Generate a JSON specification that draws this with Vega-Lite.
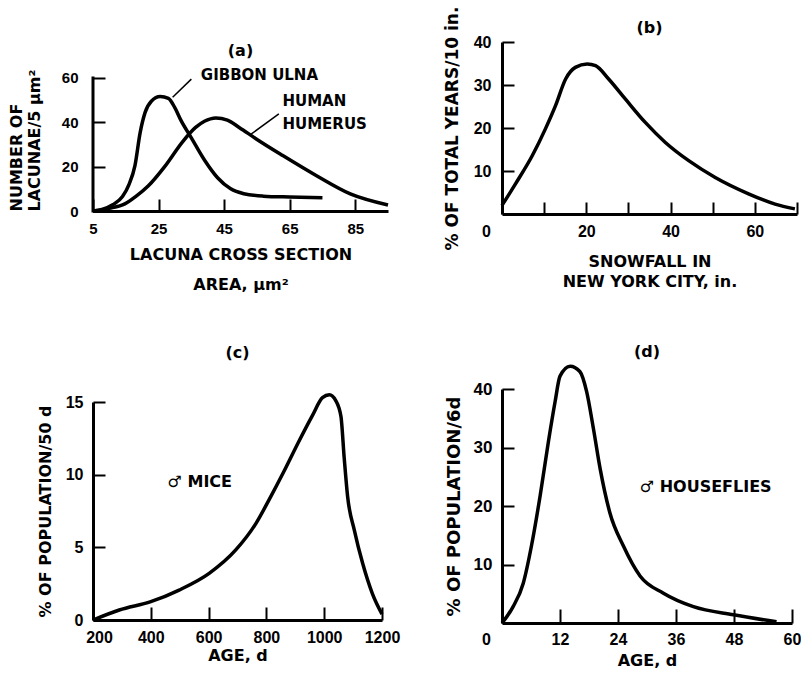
{
  "$schema": "https://vega.github.io/schema/vega-lite/v6.json",
  "background": "white",
  "padding": {"left": 8, "top": 6, "right": 0, "bottom": 0},
  "datasets": {
    "lacuna": [
      {"specimen": "Gibbon ulna", "area": 5, "count": 0},
      {"specimen": "Gibbon ulna", "area": 8, "count": 0.8},
      {"specimen": "Gibbon ulna", "area": 11, "count": 2.8},
      {"specimen": "Gibbon ulna", "area": 14, "count": 6.5},
      {"specimen": "Gibbon ulna", "area": 16, "count": 12},
      {"specimen": "Gibbon ulna", "area": 17.8, "count": 20.5},
      {"specimen": "Gibbon ulna", "area": 19.4, "count": 35.5},
      {"specimen": "Gibbon ulna", "area": 20.9, "count": 44.5},
      {"specimen": "Gibbon ulna", "area": 22.8, "count": 49.5},
      {"specimen": "Gibbon ulna", "area": 25.5, "count": 51.6},
      {"specimen": "Gibbon ulna", "area": 28, "count": 50.8},
      {"specimen": "Gibbon ulna", "area": 30, "count": 46.5},
      {"specimen": "Gibbon ulna", "area": 31.8, "count": 41},
      {"specimen": "Gibbon ulna", "area": 35, "count": 33},
      {"specimen": "Gibbon ulna", "area": 39, "count": 23},
      {"specimen": "Gibbon ulna", "area": 43, "count": 15},
      {"specimen": "Gibbon ulna", "area": 47, "count": 10},
      {"specimen": "Gibbon ulna", "area": 51, "count": 7.8},
      {"specimen": "Gibbon ulna", "area": 57, "count": 6.7},
      {"specimen": "Gibbon ulna", "area": 65, "count": 6.3},
      {"specimen": "Gibbon ulna", "area": 75, "count": 6.0},
      {"specimen": "Human humerus", "area": 5, "count": 0},
      {"specimen": "Human humerus", "area": 10, "count": 1.2},
      {"specimen": "Human humerus", "area": 14.7, "count": 3.2},
      {"specimen": "Human humerus", "area": 18, "count": 6.5},
      {"specimen": "Human humerus", "area": 21.9, "count": 11.4},
      {"specimen": "Human humerus", "area": 27.1, "count": 20.5},
      {"specimen": "Human humerus", "area": 32.2, "count": 31},
      {"specimen": "Human humerus", "area": 36.3, "count": 37.7},
      {"specimen": "Human humerus", "area": 39, "count": 40.5},
      {"specimen": "Human humerus", "area": 42.5, "count": 42},
      {"specimen": "Human humerus", "area": 46, "count": 41},
      {"specimen": "Human humerus", "area": 49.6, "count": 37.7},
      {"specimen": "Human humerus", "area": 54.8, "count": 32.5},
      {"specimen": "Human humerus", "area": 62.9, "count": 25},
      {"specimen": "Human humerus", "area": 73.2, "count": 15.9},
      {"specimen": "Human humerus", "area": 83.5, "count": 7.7},
      {"specimen": "Human humerus", "area": 95, "count": 2.7}
    ],
    "lacunaNotes": [
      {"area": 37.9, "count": 61.4, "note": "GIBBON ULNA"},
      {"area": 62.8, "count": 49.4, "note": "HUMAN"},
      {"area": 62.8, "count": 39.2, "note": "HUMERUS"}
    ],
    "lacunaLeaders": [
      {"area": 35.0, "count": 59.5, "area2": 29.3, "count2": 51.3},
      {"area": 61.7, "count": 43.8, "area2": 52.9, "count2": 34.3}
    ],
    "snow": [
      {"snowfall": 0, "pct": 2},
      {"snowfall": 3.2, "pct": 7},
      {"snowfall": 7.2, "pct": 13.6},
      {"snowfall": 10.3, "pct": 19.8},
      {"snowfall": 12.7, "pct": 25.2},
      {"snowfall": 15.1, "pct": 31.4},
      {"snowfall": 17.4, "pct": 34.1},
      {"snowfall": 20.2, "pct": 34.9},
      {"snowfall": 22.2, "pct": 34.5},
      {"snowfall": 25.3, "pct": 31.4},
      {"snowfall": 29.3, "pct": 26.7},
      {"snowfall": 34, "pct": 21.3},
      {"snowfall": 38.7, "pct": 16.7},
      {"snowfall": 44.3, "pct": 12.4},
      {"snowfall": 50.6, "pct": 8.5},
      {"snowfall": 58.5, "pct": 4.7},
      {"snowfall": 64.8, "pct": 2.3},
      {"snowfall": 69.5, "pct": 1.2}
    ],
    "mice": [
      {"age": 200, "pct": 0},
      {"age": 291, "pct": 0.69},
      {"age": 400, "pct": 1.26},
      {"age": 498, "pct": 2.06},
      {"age": 602, "pct": 3.21},
      {"age": 694, "pct": 4.82},
      {"age": 764, "pct": 6.65},
      {"age": 810, "pct": 8.3},
      {"age": 860, "pct": 10.2},
      {"age": 910, "pct": 12.2},
      {"age": 960, "pct": 14.1},
      {"age": 994, "pct": 15.3},
      {"age": 1018, "pct": 15.5},
      {"age": 1040, "pct": 15.1},
      {"age": 1058, "pct": 14.0},
      {"age": 1069, "pct": 11.2},
      {"age": 1081, "pct": 8.5},
      {"age": 1104, "pct": 6.2},
      {"age": 1133, "pct": 3.9},
      {"age": 1167, "pct": 1.8},
      {"age": 1200, "pct": 0.4}
    ],
    "miceNotes": [{"age": 458, "pct": 9.5, "note": "♂ MICE"}],
    "flies": [
      {"age": 0, "pct": 0},
      {"age": 2.3, "pct": 2.8},
      {"age": 4.4, "pct": 6.8},
      {"age": 6.1, "pct": 13.2},
      {"age": 7.9, "pct": 21.8},
      {"age": 9.6, "pct": 31},
      {"age": 11, "pct": 37.9},
      {"age": 12, "pct": 42.2},
      {"age": 14.1, "pct": 43.9},
      {"age": 16.1, "pct": 43},
      {"age": 17.5, "pct": 39.6},
      {"age": 18.9, "pct": 33.3},
      {"age": 20.3, "pct": 26.4},
      {"age": 22.3, "pct": 18.9},
      {"age": 25.1, "pct": 13.2},
      {"age": 28.6, "pct": 8},
      {"age": 33.4, "pct": 5.1},
      {"age": 39.6, "pct": 2.8},
      {"age": 47.9, "pct": 1.4},
      {"age": 56.8, "pct": 0.2}
    ],
    "fliesNotes": [{"age": 28.5, "pct": 23.3, "note": "♂ HOUSEFLIES"}]
  },
  "columns": 2,
  "spacing": {"row": 52, "column": 43},
  "align": {"row": "none", "column": "each"},
  "concat": [
    {
      "width": 295,
      "height": 169,
      "title": {"text": "(a)", "offset": -17},
      "layer": [
        {
          "data": {"name": "lacuna"},
          "mark": {"type": "line", "color": "black", "strokeWidth": 3.5, "interpolate": "monotone", "clip": false},
          "encoding": {
            "x": {"field": "area", "type": "quantitative",
              "scale": {"domain": [5, 95], "nice": false, "zero": false},
              "axis": {"title": ["LACUNA CROSS SECTION", "AREA, µm²"], "values": [5, 15, 25, 35, 45, 55, 65, 75, 85, 95],
                "labelExpr": "indexof([5, 25, 45, 65, 85], datum.value) >= 0 ? datum.label : ''",
                "tickSize": -12, "labelPadding": 22, "titlePadding": 10, "titleLineHeight": 30, "labelFontSize": 15, "titleFontSize": 16}},
            "y": {"field": "count", "type": "quantitative",
              "scale": {"domain": [0, 76.24], "nice": false},
              "axis": {"title": ["NUMBER OF", "LACUNAE/5 µm²"], "values": [0, 20, 40, 60], "domain": false,
                "tickSize": -12, "labelPadding": 27, "titlePadding": 19, "titleAnchor": "start", "titleAlign": "left", "titleLineHeight": 18, "labelFontSize": 15, "titleFontSize": 16}},
            "detail": {"field": "specimen"}
          }
        },
        {
          "data": {"values": [{}]},
          "mark": {"type": "rule", "color": "black", "strokeWidth": 3, "strokeCap": "square"},
          "encoding": {
            "x": {"datum": 5, "type": "quantitative"},
            "y": {"datum": 0, "type": "quantitative"},
            "y2": {"datum": 60}
          }
        },
        {
          "data": {"name": "lacunaLeaders"},
          "mark": {"type": "rule", "color": "black", "strokeWidth": 1.5, "clip": false},
          "encoding": {
            "x": {"field": "area", "type": "quantitative"},
            "y": {"field": "count", "type": "quantitative"},
            "x2": {"field": "area2"},
            "y2": {"field": "count2"}
          }
        },
        {
          "data": {"name": "lacunaNotes"},
          "mark": {"type": "text", "align": "left", "baseline": "middle", "fontSize": 15, "clip": false},
          "encoding": {
            "x": {"field": "area", "type": "quantitative"},
            "y": {"field": "count", "type": "quantitative"},
            "text": {"field": "note"}
          }
        }
      ]
    },
    {
      "width": 295,
      "height": 172,
      "title": {"text": "(b)", "offset": -30},
      "data": {"name": "snow"},
      "mark": {"type": "line", "color": "black", "strokeWidth": 3.5, "interpolate": "monotone", "clip": false},
      "encoding": {
        "x": {"field": "snowfall", "type": "quantitative",
          "scale": {"domain": [0, 70], "nice": false, "zero": false},
          "axis": {"title": ["SNOWFALL IN", "NEW YORK CITY, in."], "values": [0, 10, 20, 30, 40, 50, 60, 70],
            "labelExpr": "datum.value % 20 == 0 ? datum.label : ''",
            "labelOffset": {"condition": {"test": "datum.value == 0", "value": -16}, "value": 0},
            "tickSize": -12, "labelPadding": 21, "titlePadding": 14, "titleLineHeight": 20, "labelFontSize": 16, "titleFontSize": 16}},
        "y": {"field": "pct", "type": "quantitative",
          "scale": {"domain": [0, 40], "nice": false},
          "axis": {"title": "% OF TOTAL YEARS/10 in.", "values": [10, 20, 30, 40],
            "tickSize": -12, "labelPadding": 23, "titlePadding": 12, "labelFontSize": 16, "titleFontSize": 17}}
      }
    },
    {
      "width": 289,
      "height": 218,
      "title": {"text": "(c)", "offset": 27},
      "layer": [
        {
          "data": {"name": "mice"},
          "mark": {"type": "line", "color": "black", "strokeWidth": 3.5, "interpolate": "monotone", "clip": false},
          "encoding": {
            "x": {"field": "age", "type": "quantitative",
              "scale": {"domain": [200, 1200], "nice": false, "zero": false},
              "axis": {"title": "AGE, d", "values": [200, 400, 600, 800, 1000, 1200], "format": "d",
                "labelOffset": {"condition": {"test": "datum.value == 200", "value": 6}, "value": 0},
                "tickSize": -13, "labelPadding": 22, "titlePadding": 2, "labelFontSize": 16, "titleFontSize": 16}},
            "y": {"field": "pct", "type": "quantitative",
              "scale": {"domain": [0, 15], "nice": false},
              "axis": {"title": "% OF POPULATION/50 d", "values": [0, 5, 10, 15],
                "tickSize": -12, "labelPadding": 22, "titlePadding": 12, "labelFontSize": 16, "titleFontSize": 16}}
          }
        },
        {
          "data": {"name": "miceNotes"},
          "mark": {"type": "text", "align": "left", "baseline": "middle", "fontSize": 16, "clip": false},
          "encoding": {
            "x": {"field": "age", "type": "quantitative"},
            "y": {"field": "pct", "type": "quantitative"},
            "text": {"field": "note"}
          }
        }
      ]
    },
    {
      "width": 290,
      "height": 234,
      "title": {"text": "(d)", "offset": -1},
      "layer": [
        {
          "data": {"name": "flies"},
          "mark": {"type": "line", "color": "black", "strokeWidth": 3.5, "interpolate": "monotone", "clip": false},
          "encoding": {
            "x": {"field": "age", "type": "quantitative",
              "scale": {"domain": [0, 60], "nice": false, "zero": false},
              "axis": {"title": "AGE, d", "values": [0, 12, 24, 36, 48, 60],
                "labelOffset": {"condition": {"test": "datum.value == 0", "value": -16}, "value": 0},
                "tickSize": -14, "labelPadding": 22, "titlePadding": 5, "labelFontSize": 16, "titleFontSize": 16}},
            "y": {"field": "pct", "type": "quantitative",
              "scale": {"domain": [0, 40], "nice": false},
              "axis": {"title": "% OF POPULATION/6d", "values": [10, 20, 30, 40],
                "tickSize": -12, "labelPadding": 22, "titlePadding": 10, "labelFontSize": 17, "titleFontSize": 18}}
          }
        },
        {
          "data": {"name": "fliesNotes"},
          "mark": {"type": "text", "align": "left", "baseline": "middle", "fontSize": 16, "clip": false},
          "encoding": {
            "x": {"field": "age", "type": "quantitative"},
            "y": {"field": "pct", "type": "quantitative"},
            "text": {"field": "note"}
          }
        }
      ]
    }
  ],
  "config": {
    "view": {"stroke": null},
    "axis": {
      "domainColor": "black", "domainWidth": 3, "tickColor": "black", "tickWidth": 2, "grid": false,
      "labelColor": "black", "titleColor": "black",
      "labelFont": "Liberation Sans", "labelFontWeight": "bold",
      "titleFont": "DejaVu Sans", "titleFontWeight": "bold",
      "labelFlush": false, "labelOverlap": false, "labelBound": false
    },
    "title": {"font": "DejaVu Sans", "fontWeight": "bold", "fontSize": 16, "color": "black", "anchor": "middle", "frame": "group"},
    "text": {"font": "DejaVu Sans", "fontWeight": "bold", "color": "black"}
  }
}
